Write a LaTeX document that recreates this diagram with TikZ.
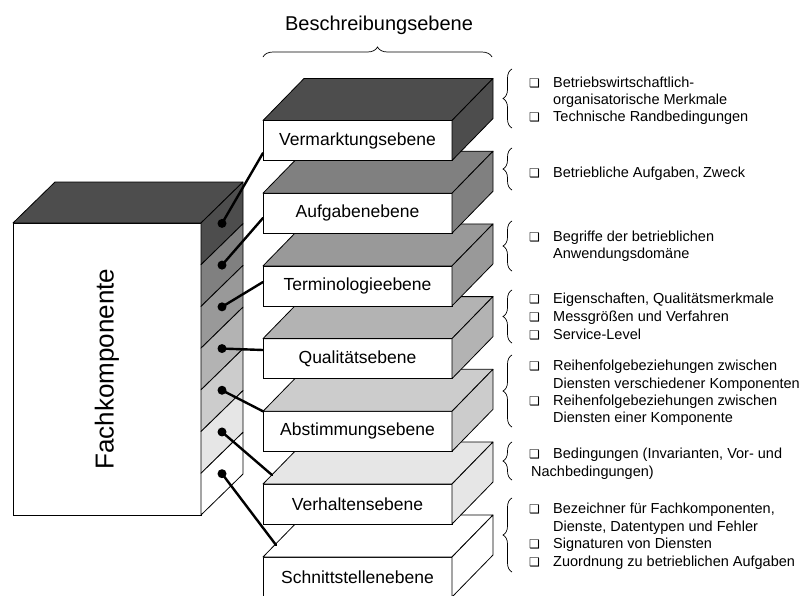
\documentclass[tikz,border=0pt]{standalone}
\usepackage{fontspec}
\setmainfont{Liberation Sans}
\newfontfamily\cbfont{DejaVu Sans}
\usetikzlibrary{decorations.pathreplacing}
\definecolor{g1}{HTML}{4D4D4D}
\definecolor{g2}{HTML}{808080}
\definecolor{g3}{HTML}{999999}
\definecolor{g4}{HTML}{B3B3B3}
\definecolor{g5}{HTML}{CCCCCC}
\definecolor{g6}{HTML}{E6E6E6}
\definecolor{g7}{HTML}{FFFFFF}
\newcommand\cbx{\makebox[24pt][l]{\cbfont\fontsize{12}{12}\selectfont ❑}}
\begin{document}
\begin{tikzpicture}[x=1pt,y=-1pt,
  slab/.style={draw, fill=white, line width=0.8pt, minimum width=189pt, minimum height=40pt,
    inner sep=0pt, outer sep=0pt, font=\fontsize{17.5}{21}\selectfont},
  face/.style={draw, line width=0.8pt, line join=round},
  conn/.style={line width=2.4pt, line cap=round},
  dot/.style={circle, fill=black, inner sep=0pt, minimum size=9pt},
  item/.style={anchor=base west, inner sep=0pt, font=\fontsize{14.5}{17}\selectfont},
  rbrace/.style={decorate, decoration={brace, amplitude=9pt}, line width=0.7pt}
]
\useasboundingbox (0,0) rectangle (805,595);
\begin{scope}
\clip (0,0) rectangle (805,595);
% heading
\node[anchor=base, inner sep=0pt, font=\fontsize{20}{24}\selectfont] (head) at (379,30) {Beschreibungsebene};
\coordinate (hb1) at (263,57);
\coordinate (hb2) at (492,57);
\draw[decorate, decoration={brace, amplitude=10pt}, line width=0.7pt] (hb1) -- (hb2);

% Fachkomponente box
\node[draw, fill=white, line width=0.8pt, minimum width=188pt, minimum height=292pt,
  inner sep=0pt, outer sep=0pt] (fk) at (107,369) {};
\node[rotate=90, inner sep=0pt, font=\fontsize{26}{30}\selectfont] (fklabel) at (fk.center) {Fachkomponente};
\filldraw[face, fill=g1] (fk.north west) -- ++(42,-41) -- ++(188,0) -- (fk.north east) -- cycle;
\foreach \k/\col in {0/g1,1/g2,2/g3,3/g4,4/g5,5/g6,6/g7}{
  \filldraw[face, fill=\col] (201,{223+41.714*\k}) -- ++(42,-41) -- ++(0,41.714) -- ++(-42,41) -- cycle;
  \node[dot] (d\k) at (222,{223.4+41.714*\k}) {};
}

% slabs, bottom to top
\foreach \i/\col/\txt/\yc in {6/g7/Schnittstellenebene/577,5/g6/Verhaltensebene/504,4/g5/Abstimmungsebene/431.3,3/g4/Qualitätsebene/358.6,2/g3/Terminologieebene/285.9,1/g2/Aufgabenebene/213.2,0/g1/Vermarktungsebene/140.5}{
  \node[slab] (s\i) at (357.5,\yc) {\txt};
  \filldraw[face, fill=\col] (s\i.north west) -- ++(41,-42) -- ++(189,0) -- (s\i.north east) -- cycle;
  \filldraw[face, fill=\col] (s\i.north east) -- ++(41,-42) -- ++(0,40) -- (s\i.south east) -- cycle;
}

% connector end points
\coordinate (e0) at (263,153);
\coordinate (e1) at (263,218);
\coordinate (e2) at (263,282);
\coordinate (e3) at (263,350);
\coordinate (e4) at (s4.north west);
\coordinate (e5) at (272,475);
\coordinate (e6) at (276,545);
\foreach \k in {0,...,6}{
  \draw[conn] (d\k.center) -- (e\k);
}

% right braces
\foreach \n/\a/\b in {1/69/128,2/148/190,3/221/271,4/290/343,5/355/427,6/442/480,7/498/572}{
  \coordinate (rb\n a) at (512,\b);
  \coordinate (rb\n b) at (512,\a);
  \draw[rbrace] (rb\n a) -- (rb\n b);
}

% items
\node[item] (t1a) at (529,87) {\cbx Betriebswirtschaftlich-};
\node[item] (t1b) at (553,104) {organisatorische Merkmale};
\node[item] (t1c) at (529,121) {\cbx Technische Randbedingungen};
\node[item] (t2a) at (529,177) {\cbx Betriebliche Aufgaben, Zweck};
\node[item] (t3a) at (529,241) {\cbx Begriffe der betrieblichen};
\node[item] (t3b) at (553,258) {Anwendungsdomäne};
\node[item] (t4a) at (529,303) {\cbx Eigenschaften, Qualitätsmerkmale};
\node[item] (t4b) at (529,321) {\cbx Messgrößen und Verfahren};
\node[item] (t4c) at (529,339) {\cbx Service-Level};
\node[item] (t5a) at (529,370) {\cbx Reihenfolgebeziehungen zwischen};
\node[item] (t5b) at (553,388) {Diensten verschiedener Komponenten};
\node[item] (t5c) at (529,405) {\cbx Reihenfolgebeziehungen zwischen};
\node[item] (t5d) at (553,422) {Diensten einer Komponente};
\node[item] (t6a) at (529,458) {\cbx Bedingungen (Invarianten, Vor- und};
\node[item] (t6b) at (531,476) {Nachbedingungen)};
\node[item] (t7a) at (529,513) {\cbx Bezeichner für Fachkomponenten,};
\node[item] (t7b) at (553,531) {Dienste, Datentypen und Fehler};
\node[item] (t7c) at (529,548) {\cbx Signaturen von Diensten};
\node[item] (t7d) at (529,566) {\cbx Zuordnung zu betrieblichen Aufgaben};
\end{scope}
\end{tikzpicture}
\end{document}
